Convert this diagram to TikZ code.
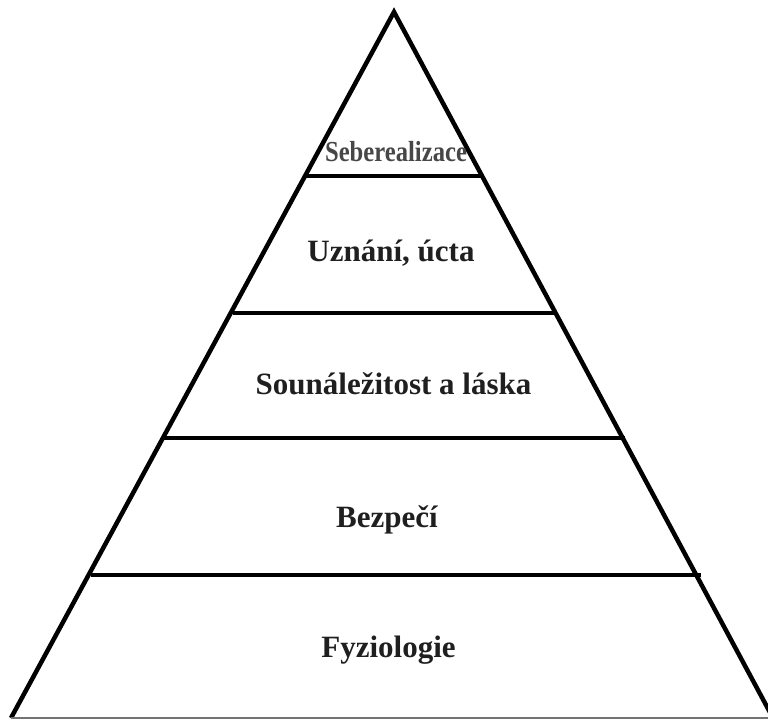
\documentclass[tikz,border=0pt]{standalone}
\usepackage{fontspec}
\setmainfont{Liberation Serif}
\begin{document}
\begin{tikzpicture}[x=1pt,y=1pt,
  edge/.style={line width=4.5pt,line join=miter,line cap=butt},
  tier/.style={line width=4pt},
  lbl/.style={font=\fontsize{31}{31}\selectfont\bfseries,text=black!88,anchor=base,inner sep=0pt},
  toplbl/.style={font=\fontsize{29}{29}\selectfont\bfseries,text=black!72,anchor=base,inner sep=0pt,xscale=0.85}]
\useasboundingbox (0,0) rectangle (768,720);
\begin{scope}
\clip (0,0) rectangle (768,720);
\coordinate (apex) at (394,708);
\coordinate (bl) at (11,2);
\coordinate (br) at (773,2);
\draw[edge] (bl) -- (apex) -- (br);
\draw[line width=1.5pt,black!55] (bl) -- (br);
\coordinate (l1) at (306,544); \coordinate (r1) at (483,544);
\coordinate (l2) at (233,407); \coordinate (r2) at (555,407);
\coordinate (l3) at (162,282); \coordinate (r3) at (625,282);
\coordinate (l4) at (91,145);  \coordinate (r4) at (701,145);
\draw[tier] (l1) -- (r1);
\draw[tier] (l2) -- (r2);
\draw[tier] (l3) -- (r3);
\draw[tier] (l4) -- (r4);
\end{scope}
\node[toplbl] (t5) at (396,558) {Seberealizace};
\node[lbl] (t4) at (391,458) {Uznání, úcta};
\node[lbl] (t3) at (393.5,325) {Sounáležitost a láska};
\node[lbl] (t2) at (387,192) {Bezpečí};
\node[lbl] (t1) at (388.5,63) {Fyziologie};
\end{tikzpicture}
\end{document}
